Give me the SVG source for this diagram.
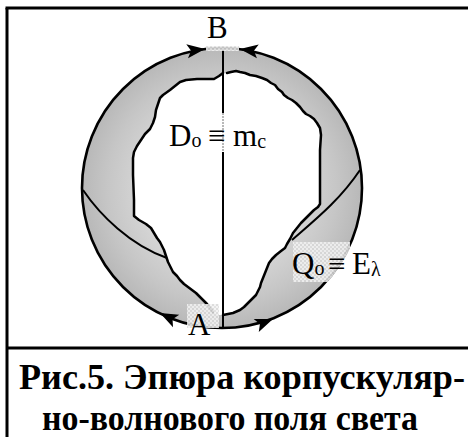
<svg xmlns="http://www.w3.org/2000/svg" width="468" height="437" viewBox="0 0 468 437">
<style>
.frame{stroke:#000;stroke-width:3;fill:none}
.ln{stroke:#000;stroke-width:2.5;fill:none;stroke-linejoin:round;stroke-linecap:round}
.thin{stroke:#000;stroke-width:2;fill:none}
.lbl{font-family:"Liberation Serif","DejaVu Serif",serif;font-size:31px;fill:#000}
.sub{font-size:20px}
.cap{font-family:"Liberation Serif","Times New Roman",serif;font-weight:bold;font-size:36px;fill:#000}
.patch{fill:url(#chk);opacity:0.88}
</style>
<defs>
<radialGradient id="gr" cx="222" cy="188" r="140" gradientUnits="userSpaceOnUse">
<stop offset="0.6" stop-color="#d4d4d4"/>
<stop offset="0.82" stop-color="#c6c6c6"/>
<stop offset="1" stop-color="#b8b8b8"/>
</radialGradient>
<pattern id="chk" width="4" height="4" patternUnits="userSpaceOnUse">
<rect width="4" height="4" fill="#f2f2f2"/>
<rect width="2" height="2" fill="#d8d8d8"/>
<rect x="2" y="2" width="2" height="2" fill="#dedede"/>
</pattern>
<clipPath id="cc"><circle cx="222" cy="188" r="141.5"/></clipPath>
<path id="ah" d="M0,0 L-18,-7 L-14,0 L-18,7 Z" fill="#000"/>
</defs>

<g id="frame">
<line class="frame" x1="5.5" y1="8" x2="468" y2="8"/>
<line class="frame" x1="7" y1="8" x2="7" y2="437"/>
<line class="frame" x1="7" y1="348" x2="468" y2="348"/>
</g>

<g id="disk">
<circle cx="222" cy="188" r="140" fill="url(#gr)" stroke="#000" stroke-width="2.6"/>
<path id="blob" fill="#fff" d="M223,73 L219,76 L214,79 L205,79 L197,79 L186,80 L180,82 L175,86 L170,90 L163,95 L160,98 L158,104 L156,110 L155,117 L153,123 L150,129 L145,134 L141,140 L137,146 L134,152 L133,158 L133,175 L134,200 L134,216 L139,220 L146,224 L151,228 L154,233 L157,238 L160,242 L162,246 L164,250 L166,256 L168,262 L171,268 L173,272 L177,276 L180,280 L184,284 L188,287 L192,290 L196,293 L200,297 L203,300 L207,304 L210,308 L213,312 L218,315 L223,315 L233,313 L240,310 L244,307 L248,303 L252,299 L256,295 L258,291 L260,287 L261,283 L263,278 L265,273 L267,268 L269,263 L272,259 L276,255 L281,251 L285,248 L287,244 L290,239 L293,233 L297,228 L301,223 L305,219 L309,215 L314,210 L318,207 L320,204 L320,180 L320,150 L321,135 L320,128 L317,123 L314,119 L310,116 L306,114 L303,111 L300,107 L296,103 L292,100 L288,98 L284,95 L282,92 L278,89 L275,85 L271,83 L267,80 L262,78 L256,76 L250,75 L245,73 L240,72 L236,71 L231,72 L227,73 Z"/>
</g>

<g id="connectors">
<path class="ln" d="M223,73 L219,76 L214,79 L205,79 L197,79 L186,80 L180,82 L175,86 L170,90 L163,95 L160,98 L158,104 L156,110 L155,117 L153,123 L150,129 L145,134 L141,140 L137,146 L134,152 L133,158 L133,175 L134,200 L134,216 L139,220 L146,224 L151,228 L154,233 L157,238 L160,242 L162,246 L164,250 L166,256 L168,262 L171,268 L173,272 L177,276 L180,280 L184,284 L188,287 L192,290 L196,293 L200,297 L203,300 L207,304 L210,308 L213,312"/>
<path class="ln" d="M223,315 L233,313 L240,310 L244,307 L248,303 L252,299 L256,295 L258,291 L260,287 L261,283 L263,278 L265,273 L267,268 L269,263 L272,259 L276,255 L281,251 L285,248 L287,244 L290,239 L293,233 L297,228 L301,223 L305,219 L309,215 L314,210 L318,207 L320,204 L320,180 L320,150 L321,135 L320,128 L317,123 L314,119 L310,116 L306,114 L303,111 L300,107 L296,103 L292,100 L288,98 L284,95 L282,92 L278,89 L275,85 L271,83 L267,80 L262,78 L256,76 L250,75 L245,73 L240,72 L236,71 L231,72 L227,73"/>
<path class="thin" d="M83,190 C100,215 130,245 167,258"/>
<path class="thin" d="M360,170 C340,200 315,220 292,240"/>
<line class="thin" x1="223" y1="49" x2="223" y2="113"/>
<line x1="223" y1="113" x2="223" y2="152" stroke="#b8b8b8" stroke-width="2" stroke-dasharray="2 1"/>
<line class="thin" x1="223" y1="152" x2="223" y2="328"/>
<use href="#ah" transform="translate(205,49) rotate(-7)"/>
<use href="#ah" transform="translate(240,49) rotate(187.4)"/>
<use href="#ah" transform="translate(160,313) rotate(206.4)"/>
<use href="#ah" transform="translate(273,319) rotate(-21.3)"/>
</g>

<g id="patches">
<rect class="patch" x="206" y="46" width="33" height="5"/>
<rect class="patch" x="187" y="304" width="32" height="24"/>
<rect class="patch" x="293" y="242" width="57" height="40" clip-path="url(#cc)"/>
</g>

<g id="labels">
<text class="lbl" x="207" y="38">B</text>
<text class="lbl" x="169" y="146">D<tspan class="sub" dy="1">o</tspan><tspan x="208" dy="-1">≡</tspan><tspan x="233">m</tspan><tspan class="sub" dy="2">c</tspan></text>
<text class="lbl" x="292" y="274">Q<tspan class="sub" dy="1">o</tspan><tspan x="328" dy="-1">≡</tspan><tspan x="352">E</tspan><tspan class="sub" dy="2">λ</tspan></text>
<text class="lbl" x="188" y="335">A</text>
</g>

<g id="caption">
<text class="cap" x="19" y="389" textLength="446" lengthAdjust="spacingAndGlyphs">Рис.5. Эпюра корпускуляр-</text>
<text class="cap" x="42" y="430" textLength="376" lengthAdjust="spacingAndGlyphs">но-волнового поля света</text>
</g>
</svg>
